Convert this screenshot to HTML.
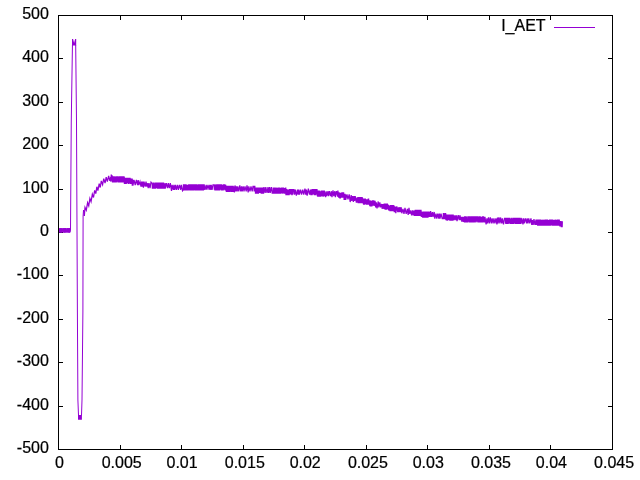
<!DOCTYPE html>
<html><head><meta charset="utf-8"><title>plot</title><style>html,body{margin:0;padding:0;background:#fff;overflow:hidden}</style></head><body>
<svg width="640" height="480" viewBox="0 0 640 480" style="display:block">
<rect width="640" height="480" fill="#fff"/>
<path d="M58.5,449.5h4.5M612.5,449.5h-4.5M58.5,406.5h4.5M612.5,406.5h-4.5M58.5,362.5h4.5M612.5,362.5h-4.5M58.5,319.5h4.5M612.5,319.5h-4.5M58.5,275.5h4.5M612.5,275.5h-4.5M58.5,232.5h4.5M612.5,232.5h-4.5M58.5,189.5h4.5M612.5,189.5h-4.5M58.5,145.5h4.5M612.5,145.5h-4.5M58.5,102.5h4.5M612.5,102.5h-4.5M58.5,58.5h4.5M612.5,58.5h-4.5M58.5,15.5h4.5M612.5,15.5h-4.5M58.5,449.5v-4.5M58.5,15.5v4.5M120.5,449.5v-4.5M120.5,15.5v4.5M181.5,449.5v-4.5M181.5,15.5v4.5M243.5,449.5v-4.5M243.5,15.5v4.5M304.5,449.5v-4.5M304.5,15.5v4.5M366.5,449.5v-4.5M366.5,15.5v4.5M427.5,449.5v-4.5M427.5,15.5v4.5M489.5,449.5v-4.5M489.5,15.5v4.5M550.5,449.5v-4.5M550.5,15.5v4.5M612.5,449.5v-4.5M612.5,15.5v4.5" stroke="#000" stroke-width="1" fill="none"/>
<g font-family="Liberation Sans, sans-serif" font-size="16" fill="#000" stroke="#000" stroke-width="0.22" style="will-change:transform">
<text x="48.9" y="453.0" text-anchor="end">-500</text>
<text x="48.9" y="410.0" text-anchor="end">-400</text>
<text x="48.9" y="366.0" text-anchor="end">-300</text>
<text x="48.9" y="323.0" text-anchor="end">-200</text>
<text x="48.9" y="279.0" text-anchor="end">-100</text>
<text x="48.9" y="236.0" text-anchor="end">0</text>
<text x="48.9" y="193.0" text-anchor="end">100</text>
<text x="48.9" y="149.0" text-anchor="end">200</text>
<text x="48.9" y="106.0" text-anchor="end">300</text>
<text x="48.9" y="62.0" text-anchor="end">400</text>
<text x="48.9" y="19.0" text-anchor="end">500</text>
<text x="59.5" y="467.7" text-anchor="middle">0</text>
<text x="121.7" y="467.7" text-anchor="middle">0.005</text>
<text x="182.1" y="467.7" text-anchor="middle">0.01</text>
<text x="244.8" y="467.7" text-anchor="middle">0.015</text>
<text x="305.2" y="467.7" text-anchor="middle">0.02</text>
<text x="367.9" y="467.7" text-anchor="middle">0.025</text>
<text x="428.3" y="467.7" text-anchor="middle">0.03</text>
<text x="491.0" y="467.7" text-anchor="middle">0.035</text>
<text x="551.4" y="467.7" text-anchor="middle">0.04</text>
<text x="614.1" y="467.7" text-anchor="middle">0.045</text>
<text x="545.6" y="30.8" text-anchor="end">I_AET</text>
</g>
<path d="M554,27.5H595" stroke="#9400d3" stroke-width="1" fill="none"/>
<path d="M72,45.6V39.1H73.1L74.1,42.9L75.1,39.1H76.2V45.6Z M78,415H81.9V419.75H78Z" fill="#9400d3"/>
<path d="M58.50,228.30L59.00,232.40L59.20,228.30L59.90,232.40L60.05,228.30L60.20,232.40L60.35,228.30L60.85,232.40L61.00,228.30L61.20,232.40L61.35,228.30L61.50,232.40L62.20,228.30L62.90,232.40L63.05,228.30L63.25,232.40L63.40,228.30L64.10,232.40L64.25,228.30L64.40,232.40L64.60,228.30L64.75,232.40L65.45,228.30L65.60,232.40L65.80,228.30L65.95,232.40L66.15,228.30L66.65,232.40L67.35,228.30L67.55,232.40L67.70,228.30L68.20,232.40L68.40,228.30L68.55,232.40L68.75,228.30L69.25,232.40L69.40,228.30L69.55,232.40L69.70,228.30L69.90,232.40L70.50,230.00L71.25,122.00L72.45,45.00M75.70,45.00L76.50,122.00L77.00,230.00L77.40,312.00L77.90,400.00L78.50,415.50M81.50,415.50L82.00,400.00L82.90,312.00L83.10,216.00L83.50,210.00L84.30,216.00" stroke="#9400d3" stroke-width="1" fill="none" stroke-linejoin="miter"/>
<path d="M84.30,216.00L85.00,207.38L86.30,210.22L87.60,202.67L88.75,205.78L89.90,198.49L91.05,201.62L92.35,194.23L93.50,197.50L94.65,190.37L95.80,193.64L96.85,186.77L97.90,190.59L99.20,183.68L100.25,187.50L101.30,180.92L102.60,184.61L103.75,178.67L105.05,183.03L106.20,177.09L107.35,181.55L108.65,175.88L109.80,180.89L110.80,176.80L110.90,181.80L111.00,180.20L111.10,180.20L111.23,175.20L111.39,175.20L111.55,180.20L111.68,180.20L111.84,180.20L112.00,180.20L112.10,175.20L112.23,180.20L112.39,176.80L112.49,181.80L112.65,181.80L112.78,181.80L112.94,181.80L113.04,181.80L113.17,176.80L113.33,176.80L113.46,176.80L113.56,181.80L113.66,176.80L113.79,181.80L113.92,176.80L114.02,181.80L114.15,181.80L114.25,181.80L114.41,181.80L114.57,181.80L114.70,181.80L114.80,176.80L114.90,176.80L115.00,176.80L115.16,176.80L115.26,181.80L115.42,176.80L115.55,181.80L115.65,176.80L115.78,181.80L115.94,181.80L116.04,176.80L116.17,181.80L116.30,181.80L116.43,176.80L116.56,181.80L116.66,176.80L116.76,176.80L116.89,176.80L116.99,181.80L117.15,176.80L117.25,176.80L117.41,176.80L117.57,176.80L117.70,176.80L117.80,176.80L117.96,181.80L118.06,181.80L118.19,181.80L118.32,176.80L118.42,181.80L118.55,181.80L118.68,181.80L118.78,176.80L118.88,181.80L119.04,181.80L119.17,176.80L119.33,176.80L119.43,181.80L119.53,176.80L119.69,181.80L119.85,176.80L120.01,181.80L120.17,181.80L120.27,181.80L120.37,181.80L120.53,176.80L120.69,176.80L120.79,181.80L120.95,176.80L121.05,181.80L121.18,176.80L121.28,181.80L121.41,181.80L121.51,181.80L121.64,181.80L121.77,176.80L121.87,176.80L121.97,181.80L122.07,181.80L122.17,181.80L122.33,176.80L122.46,181.80L122.62,176.80L122.78,176.80L122.91,176.80L123.04,176.80L123.17,181.80L123.27,181.80L123.40,181.80L123.56,176.80L123.72,176.80L123.82,176.80L123.92,176.80L124.08,181.80L124.24,176.80L124.40,183.40L124.56,183.40L124.66,178.40L124.76,178.40L124.92,178.40L125.08,178.40L125.21,178.40L125.31,178.40L125.44,178.40L125.57,178.40L125.73,183.40L125.86,183.40L125.96,178.40L126.12,183.40L126.25,183.40L126.41,178.40L126.57,178.40L126.73,178.40L126.86,178.40L127.02,178.40L127.12,178.40L127.22,183.40L127.38,178.40L127.54,178.40L127.67,183.40L127.77,178.40L127.87,178.40L128.00,178.40L128.10,183.40L128.26,178.40L128.36,183.40L128.49,178.40L128.65,183.40L128.78,183.40L128.94,178.40L129.10,183.40L129.26,178.40L129.39,178.40L129.52,178.40L129.65,183.40L129.78,178.40L129.94,178.40L130.07,178.40L130.17,183.40L130.27,178.40L130.43,183.40L130.53,183.40L130.63,183.40L130.73,178.40L130.86,183.40L130.96,178.40L131.06,183.40L131.22,183.40L131.35,183.40L131.45,183.40L131.58,178.40L131.74,183.40L131.84,183.40L132.00,183.40L132.13,178.40L132.26,185.00L132.42,185.00L132.58,180.00L132.68,180.00L132.78,180.00L132.91,185.00L133.01,185.00L134.01,180.00L135.21,185.00L136.41,180.00L137.61,185.00L138.21,180.00L138.81,185.00L140.01,181.60L141.01,186.60L141.61,181.60L142.21,186.60L142.81,181.60L143.41,187.64L144.01,181.60L145.21,186.60L146.01,181.60L146.81,186.60L147.61,183.20L148.21,188.20L149.01,183.20L150.01,188.20L151.01,182.24L151.81,183.20L151.94,183.20L152.04,183.20L152.20,183.20L152.36,188.20L152.46,188.20L152.56,188.20L152.72,188.20L152.88,188.20L153.04,188.20L153.20,183.20L153.30,188.20L153.40,183.20L153.53,188.20L153.63,183.20L153.73,183.20L153.89,188.20L154.02,183.20L154.12,183.20L154.28,188.20L154.44,188.20L154.60,183.20L154.76,188.20L154.86,188.20L154.96,183.20L155.09,188.20L155.19,188.20L155.32,188.20L155.48,188.20L155.58,183.20L155.71,183.20L155.84,183.20L155.94,188.20L156.07,183.20L156.20,188.20L156.36,183.20L156.46,183.20L156.56,188.20L156.66,183.20L156.79,183.20L156.92,183.20L157.05,188.20L157.21,183.20L157.31,183.20L157.47,188.20L157.60,188.20L157.70,188.20L157.86,183.20L157.96,188.20L158.12,183.20L158.28,183.20L158.44,183.20L158.54,183.20L158.64,183.20L158.80,188.20L158.90,188.20L159.03,183.20L159.19,183.20L159.35,183.20L159.48,188.20L159.58,188.20L159.68,183.20L159.84,183.20L160.00,188.20L160.13,183.20L160.26,183.20L160.42,183.20L160.52,188.20L160.65,188.20L160.75,188.20L160.91,188.20L161.01,183.20L161.11,183.20L161.24,188.20L161.40,188.20L161.56,183.20L161.66,188.20L161.76,188.20L161.89,183.20L162.05,183.20L162.21,188.20L162.34,188.20L162.47,188.20L162.60,183.20L162.76,183.20L162.89,183.20L163.02,183.20L163.15,188.20L163.25,188.20L163.38,188.20L163.48,183.20L163.58,183.20L163.68,188.20L163.81,183.20L163.97,188.20L164.07,188.20L164.17,188.20L164.30,188.20L164.40,183.20L164.50,188.20L164.66,188.20L164.79,188.20L164.95,183.20L165.08,188.20L165.21,188.20L165.31,188.20L166.31,183.20L167.51,188.20L168.31,183.20L169.31,188.20L170.31,183.20L171.51,190.84L172.11,184.80L173.31,189.80L173.91,184.80L174.51,189.80L175.51,184.80L176.31,189.80L177.51,184.80L178.31,189.80L179.51,184.80L180.71,189.80L181.31,184.80L182.51,190.84L183.31,189.80L183.44,184.80L183.60,184.80L183.70,189.80L183.83,189.80L183.96,189.80L184.09,189.80L184.22,184.80L184.35,189.80L184.51,189.80L184.61,184.80L184.77,184.80L184.87,184.80L185.03,189.80L185.19,184.80L185.32,189.80L185.45,189.80L185.55,184.80L185.65,184.80L185.75,189.80L185.91,184.80L186.04,184.80L186.17,189.80L186.33,184.80L186.43,189.80L186.56,189.80L186.72,184.80L186.85,189.80L186.98,184.80L187.11,189.80L187.27,189.80L187.37,184.80L187.47,189.80L187.57,189.80L187.70,189.80L187.83,189.80L187.93,184.80L188.03,189.80L188.19,189.80L188.35,189.80L188.45,184.80L188.58,189.80L188.71,184.80L188.81,184.80L188.91,184.80L189.07,184.80L189.23,189.80L189.33,184.80L189.43,184.80L189.53,184.80L189.69,189.80L189.79,189.80L189.95,189.80L190.11,184.80L190.21,184.80L190.34,184.80L190.47,189.80L190.57,184.80L190.67,189.80L190.80,189.80L190.93,184.80L191.06,184.80L191.22,184.80L191.32,189.80L191.48,189.80L191.58,184.80L191.68,189.80L191.84,189.80L191.94,189.80L192.04,189.80L192.17,184.80L192.30,184.80L192.46,189.80L192.62,189.80L192.75,189.80L192.85,184.80L192.98,184.80L193.08,189.80L193.18,189.80L193.28,184.80L193.41,184.80L193.54,189.80L193.64,189.80L193.80,184.80L193.90,189.80L194.03,184.80L194.19,184.80L194.32,184.80L194.42,184.80L194.58,184.80L194.71,184.80L194.87,184.80L194.97,189.80L195.10,189.80L195.26,184.80L195.36,184.80L195.49,184.80L195.59,189.80L195.69,189.80L195.85,189.80L195.98,189.80L196.11,184.80L196.21,184.80L196.31,189.80L196.41,189.80L196.54,184.80L196.70,184.80L196.83,189.80L196.96,189.80L197.06,184.80L197.22,189.80L197.32,189.80L197.48,189.80L197.58,189.80L197.71,189.80L197.81,189.80L197.91,189.80L198.01,189.80L198.11,189.80L198.21,184.80L198.34,184.80L198.50,184.80L198.66,189.80L198.79,189.80L198.92,184.80L199.05,189.80L199.18,189.80L199.28,184.80L199.38,184.80L199.48,189.80L199.64,189.80L199.77,189.80L199.90,189.80L200.00,189.80L200.10,184.80L200.26,189.80L200.42,184.80L200.58,184.80L200.71,189.80L200.84,189.80L201.00,184.80L201.16,184.80L201.29,184.80L201.39,189.80L201.49,184.80L201.62,189.80L201.72,189.80L201.82,184.80L201.95,184.80L202.05,184.80L202.18,189.80L202.34,189.80L202.44,184.80L202.54,189.80L202.67,184.80L202.83,184.80L202.96,189.80L203.09,189.80L203.22,189.80L203.38,189.80L203.48,189.80L203.58,184.80L203.68,184.80L203.78,189.80L203.94,184.80L204.07,184.80L204.20,184.80L205.00,189.80L206.20,184.80L206.80,189.80L208.00,184.80L209.20,189.80L209.80,184.80L210.60,189.80L211.20,184.80L212.00,189.80L213.00,184.80L214.20,184.80L214.30,189.80L214.40,184.80L214.53,189.80L214.63,184.80L214.73,189.80L214.83,184.80L214.93,189.80L215.06,189.80L215.16,189.80L215.26,184.80L215.36,189.80L215.52,189.80L215.62,189.80L215.72,189.80L215.88,184.80L216.04,184.80L216.20,184.80L216.33,189.80L216.46,189.80L216.62,189.80L216.75,184.80L216.88,189.80L217.01,189.80L217.11,189.80L217.27,184.80L217.40,189.80L217.50,184.80L217.63,184.80L217.76,184.80L217.86,189.80L218.02,189.80L218.15,184.80L218.25,184.80L218.35,184.80L218.51,189.80L218.61,189.80L218.77,184.80L218.87,189.80L219.00,184.80L219.16,184.80L219.26,184.80L219.39,189.80L219.49,189.80L219.59,184.80L219.72,189.80L219.82,189.80L219.92,184.80L220.08,184.80L220.24,189.80L220.40,184.80L220.53,184.80L220.69,184.80L220.79,189.80L220.95,184.80L221.08,189.80L221.18,184.80L221.28,184.80L221.38,184.80L221.54,189.80L221.64,189.80L221.80,189.80L221.96,189.80L222.12,189.80L222.25,184.80L222.38,189.80L222.54,189.80L222.67,189.80L222.77,184.80L222.87,189.80L223.00,184.80L223.13,189.80L223.23,189.80L223.36,184.80L223.46,184.80L223.59,189.80L223.72,184.80L223.85,184.80L223.95,184.80L224.05,189.80L224.21,184.80L224.31,189.80L224.47,184.80L224.57,184.80L224.73,184.80L224.83,184.80L224.96,189.80L225.06,184.80L225.16,189.80L225.32,189.80L225.42,189.80L225.58,189.80L225.71,184.80L225.84,189.80L225.94,189.80L226.10,186.40L226.23,191.40L226.33,186.40L226.43,191.40L226.53,191.40L226.69,191.40L226.82,186.40L226.95,186.40L227.11,186.40L227.27,191.40L227.40,186.40L227.53,191.40L227.69,191.40L227.82,191.40L227.95,186.40L228.08,191.40L228.18,191.40L228.28,186.40L228.44,186.40L228.57,191.40L228.70,191.40L228.86,186.40L229.02,186.40L229.12,186.40L229.25,191.40L229.38,191.40L229.48,186.40L229.61,186.40L229.77,186.40L229.87,186.40L229.97,191.40L230.10,186.40L230.26,191.40L230.42,186.40L230.55,191.40L230.71,186.40L230.81,191.40L230.97,191.40L231.07,186.40L231.17,186.40L231.33,186.40L231.46,186.40L231.56,186.40L231.72,191.40L231.85,191.40L231.95,186.40L232.11,191.40L232.27,191.40L232.43,191.40L232.53,186.40L232.63,186.40L232.73,186.40L232.86,186.40L232.96,186.40L233.06,186.40L233.16,186.40L233.26,191.40L233.36,191.40L233.52,186.40L233.68,191.40L233.78,191.40L233.94,186.40L234.10,191.40L234.26,186.40L234.39,192.44L234.99,185.44L235.79,191.40L236.39,186.40L237.19,191.40L237.79,186.40L238.79,191.40L239.79,185.44L240.79,191.40L241.59,186.40L242.19,191.40L243.19,186.40L243.99,191.40L244.99,186.40L246.19,191.40L246.99,185.44L248.19,192.44L248.79,186.40L249.99,191.40L250.99,186.40L252.19,191.40L252.99,186.40L253.09,186.40L253.25,186.40L253.38,186.40L253.54,186.40L253.64,186.40L253.74,186.40L253.90,186.40L254.06,186.40L254.16,191.40L254.26,186.40L254.42,191.40L254.52,186.40L254.62,186.40L254.72,186.40L254.82,186.40L254.98,191.40L255.11,188.00L255.21,188.00L255.37,188.00L255.50,193.00L255.63,193.00L255.76,188.00L255.89,193.00L256.02,188.00L256.18,193.00L256.31,193.00L256.44,188.00L256.57,188.00L256.70,188.00L256.83,193.00L256.99,188.00L257.15,188.00L257.31,188.00L257.47,193.00L257.57,193.00L257.67,188.00L257.80,188.00L257.90,193.00L258.03,188.00L258.16,188.00L258.29,193.00L258.45,193.00L258.61,188.00L258.74,188.00L258.90,188.00L259.03,188.00L259.13,188.00L259.26,188.00L259.42,193.00L259.55,188.00L259.68,193.00L259.84,188.00L259.97,188.00L260.10,188.00L260.23,193.00L260.36,188.00L260.49,188.00L260.62,188.00L260.78,188.00L260.91,193.00L261.07,188.00L261.20,193.00L261.30,193.00L261.43,193.00L261.59,188.00L261.69,193.00L261.82,188.00L261.98,188.00L262.11,193.00L262.27,188.00L262.43,188.00L262.53,193.00L262.69,193.00L262.79,188.00L262.92,188.00L263.05,188.00L263.15,188.00L263.25,193.00L263.35,188.00L263.48,193.00L263.61,193.00L263.71,188.00L263.87,188.00L264.00,187.04L265.20,193.00L265.80,187.04L267.00,193.00L268.00,187.04L268.60,193.00L269.60,187.04L270.20,193.00L271.40,187.04L272.20,193.00L273.00,193.00L273.13,193.00L273.26,188.00L273.39,188.00L273.52,188.00L273.65,193.00L273.78,193.00L273.88,193.00L274.04,188.00L274.20,193.00L274.30,193.00L274.43,188.00L274.53,193.00L274.69,188.00L274.79,188.00L274.95,193.00L275.05,193.00L275.21,188.00L275.37,193.00L275.53,188.00L275.69,193.00L275.85,193.00L275.98,193.00L276.08,188.00L276.21,188.00L276.37,193.00L276.53,188.00L276.66,193.00L276.79,193.00L276.89,188.00L276.99,193.00L277.12,193.00L277.28,193.00L277.38,188.00L277.51,193.00L277.67,188.00L277.80,193.00L277.90,188.00L278.00,188.00L278.16,188.00L278.29,188.00L278.39,193.00L278.55,193.00L278.68,193.00L278.84,188.00L278.97,193.00L279.07,193.00L279.23,193.00L279.39,193.00L279.52,188.00L279.65,188.00L279.81,193.00L279.94,188.00L280.10,193.00L280.23,193.00L280.36,193.00L280.52,188.00L280.68,193.00L280.78,193.00L280.91,188.00L281.01,193.00L281.11,193.00L281.27,188.00L281.43,188.00L281.53,188.00L281.69,193.00L281.82,188.00L281.98,188.00L282.08,188.00L282.21,193.00L282.31,188.00L282.44,188.00L282.60,188.00L282.76,193.00L282.86,193.00L283.02,188.00L283.18,188.00L283.34,193.00L283.50,188.00L283.66,188.00L283.79,193.00L283.89,188.00L284.02,193.00L284.18,188.00L284.31,193.00L284.41,193.00L284.51,193.00L284.61,188.00L284.71,193.00L284.84,193.00L285.00,193.00L285.13,193.00L285.26,193.00L285.42,188.00L285.52,193.00L285.68,188.00L285.78,188.00L285.94,194.60L286.04,194.60L286.17,189.60L286.27,189.60L286.43,194.60L286.59,189.60L286.72,189.60L286.88,194.60L287.01,194.60L287.17,189.60L287.30,194.60L287.43,194.60L287.56,189.60L287.69,194.60L287.82,194.60L287.95,194.60L288.11,194.60L288.27,194.60L288.37,194.60L288.47,194.60L288.57,194.60L288.73,194.60L288.83,189.60L288.93,194.60L289.09,194.60L289.25,189.60L289.38,194.60L289.48,189.60L289.58,189.60L289.71,189.60L289.87,194.60L290.03,189.60L290.19,189.60L290.29,189.60L290.45,194.60L290.61,189.60L290.71,189.60L290.81,194.60L290.91,189.60L291.04,189.60L291.17,194.60L291.30,189.60L291.43,189.60L291.56,189.60L291.69,189.60L291.82,189.60L291.92,194.60L292.08,194.60L292.21,189.60L292.31,194.60L292.47,189.60L292.60,194.60L292.76,189.60L292.86,194.60L292.96,189.60L293.12,189.60L293.25,189.60L293.35,189.60L293.45,189.60L293.55,189.60L293.68,189.60L293.81,189.60L293.94,189.60L294.54,194.60L295.34,189.60L296.34,195.64L297.54,189.60L298.14,194.60L298.74,189.60L299.34,194.60L300.54,189.60L301.54,194.60L302.74,189.60L303.74,194.60L304.94,188.64L305.74,194.60L306.34,189.60L307.14,195.64L308.34,188.64L309.54,194.60L310.54,189.60L310.70,194.60L310.86,189.60L310.96,194.60L311.12,194.60L311.22,194.60L311.35,194.60L311.51,189.60L311.64,194.60L311.80,189.60L311.93,194.60L312.06,194.60L312.16,189.60L312.29,189.60L312.45,189.60L312.58,194.60L312.71,189.60L312.87,194.60L313.00,189.60L313.16,189.60L313.29,189.60L313.45,194.60L313.58,189.60L313.71,189.60L313.84,194.60L314.00,189.60L314.16,194.60L314.26,189.60L314.39,194.60L314.55,194.60L314.68,189.60L314.78,189.60L314.88,189.60L314.98,194.60L315.11,194.60L315.24,189.60L315.34,189.60L315.47,194.60L315.57,194.60L315.73,194.60L315.83,189.60L315.96,189.60L316.09,194.60L316.25,189.60L316.35,189.60L316.45,194.60L316.61,189.60L316.74,194.60L316.87,189.60L317.00,189.60L317.13,191.20L317.26,191.20L317.36,196.20L317.46,191.20L317.56,191.20L317.72,196.20L317.88,196.20L318.01,191.20L318.17,196.20L318.27,191.20L318.40,196.20L318.56,191.20L318.72,191.20L318.88,196.20L318.98,196.20L319.08,196.20L319.18,191.20L319.28,191.20L319.41,196.20L319.51,191.20L319.61,196.20L319.77,196.20L319.87,191.20L319.97,196.20L320.07,191.20L320.23,196.20L320.39,196.20L320.55,191.20L320.68,196.20L320.81,196.20L320.94,191.20L321.07,196.20L321.20,191.20L321.33,191.20L321.43,191.20L321.56,191.20L321.66,191.20L321.76,191.20L321.92,196.20L322.08,191.20L322.21,191.20L322.34,191.20L322.50,191.20L322.63,196.20L322.76,191.20L322.89,191.20L323.05,196.20L323.15,196.20L323.25,191.20L323.35,196.20L323.51,191.20L323.64,191.20L323.77,196.20L323.90,191.20L324.00,191.20L324.13,196.20L324.26,191.20L324.39,191.20L325.59,197.24L326.19,191.20L326.79,196.20L327.99,191.20L328.59,196.20L329.39,191.20L330.59,196.20L331.39,191.20L331.99,197.24L332.99,190.24L333.79,196.20L334.79,191.20L335.39,197.24L336.39,191.20L337.59,196.20L337.69,196.20L337.82,191.20L337.95,191.20L338.08,192.80L338.18,192.80L338.34,192.80L338.50,192.80L338.60,192.80L338.70,197.80L338.83,192.80L338.93,192.80L339.09,192.80L339.25,197.80L339.35,192.80L339.45,197.80L339.61,192.80L339.77,197.80L339.90,197.80L340.06,197.80L340.16,192.80L340.29,197.80L340.39,197.80L340.49,192.80L340.65,197.80L340.75,192.80L340.91,197.80L341.07,192.80L341.20,197.80L341.36,192.80L341.46,197.80L341.62,192.80L341.75,197.80L341.91,192.80L342.04,192.80L342.20,197.80L342.33,192.80L342.49,192.80L342.59,192.80L342.69,192.80L342.85,192.80L342.95,192.80L343.08,197.80L343.24,192.80L343.34,192.80L343.50,192.80L343.63,192.80L343.79,197.80L343.95,194.40L344.11,199.40L344.21,199.40L344.31,194.40L344.41,199.40L344.51,199.40L344.64,199.40L344.74,194.40L344.84,199.40L344.94,194.40L345.04,194.40L345.20,199.40L345.36,199.40L345.46,194.40L345.62,199.40L345.78,199.40L346.98,194.40L347.98,199.40L349.18,194.40L350.18,202.04L351.18,195.04L351.78,201.00L352.58,196.00L353.38,202.04L353.98,196.00L354.58,201.00L355.18,196.00L356.38,202.60L356.98,197.60L357.78,202.60L357.91,197.60L358.01,197.60L358.17,202.60L358.33,202.60L358.49,197.60L358.65,197.60L358.78,197.60L358.94,197.60L359.07,197.60L359.17,202.60L359.27,202.60L359.40,197.60L359.50,197.60L359.66,202.60L359.76,202.60L359.92,197.60L360.05,197.60L360.21,197.60L360.34,202.60L360.50,202.60L360.63,197.60L360.79,197.60L360.95,202.60L361.08,197.60L361.24,202.60L361.34,202.60L361.47,202.60L361.63,202.60L361.76,202.60L361.86,197.60L361.99,197.60L362.09,202.60L362.25,202.60L362.35,202.60L362.45,197.60L362.58,202.60L362.71,202.60L362.84,199.20L362.97,199.20L363.07,199.20L363.23,199.20L363.39,204.20L363.52,199.20L363.68,204.20L363.81,204.20L363.97,199.20L364.13,199.20L364.29,199.20L364.42,204.20L364.58,204.20L364.68,199.20L364.84,204.20L365.00,199.20L365.16,204.20L365.29,199.20L365.42,199.20L365.52,204.20L365.68,199.20L365.81,204.20L365.97,199.20L366.10,204.20L366.26,199.20L366.39,204.20L366.55,204.20L366.68,204.20L366.81,204.20L366.94,204.20L367.10,204.20L367.20,204.20L367.33,204.20L367.46,199.20L367.62,204.20L367.72,204.20L367.88,204.20L368.04,199.20L368.14,204.20L368.27,199.20L368.40,199.20L368.53,199.20L368.63,199.20L368.76,204.20L368.89,204.20L369.05,204.20L369.21,204.20L369.34,204.20L369.47,200.80L369.63,205.80L369.76,200.80L369.92,200.80L370.08,200.80L370.18,205.80L370.31,205.80L370.47,200.80L370.57,205.80L370.70,205.80L370.83,205.80L370.99,200.80L371.09,205.80L371.22,205.80L371.32,205.80L371.48,200.80L371.58,205.80L371.74,205.80L371.90,205.80L372.06,200.80L372.22,205.80L372.38,200.80L372.54,200.80L372.67,200.80L372.77,200.80L372.90,200.80L373.06,205.80L373.16,200.80L373.29,200.80L373.42,205.80L373.52,200.80L373.68,200.80L373.78,200.80L373.91,205.80L374.07,200.80L374.23,205.80L375.03,200.80L375.63,207.40L376.23,202.40L377.03,208.44L378.23,201.44L378.83,207.40L379.83,202.40L380.63,207.40L381.63,204.00L382.23,209.00L382.83,204.00L383.83,209.00L383.93,204.00L384.03,209.00L384.19,204.00L384.32,204.00L384.48,204.00L384.58,204.00L384.68,204.00L384.84,204.00L384.97,204.00L385.10,209.00L385.23,209.00L385.36,204.00L385.46,209.00L385.62,204.00L385.75,209.00L385.88,209.00L385.98,204.00L386.08,204.00L386.18,209.00L386.31,204.00L386.41,209.00L386.54,209.00L386.64,209.00L386.80,209.00L386.93,209.00L387.09,204.00L387.19,209.00L387.32,204.00L387.45,204.00L387.58,209.00L387.71,204.00L387.84,205.60L387.97,205.60L388.10,205.60L388.20,205.60L388.30,205.60L388.43,205.60L388.59,210.60L388.72,205.60L388.82,210.60L388.95,205.60L389.11,210.60L389.24,205.60L389.37,210.60L389.53,205.60L389.63,210.60L389.79,205.60L389.95,210.60L390.11,210.60L390.27,210.60L390.43,205.60L390.56,205.60L390.66,205.60L390.82,205.60L390.98,210.60L391.14,210.60L391.24,205.60L391.37,205.60L391.50,205.60L391.66,205.60L391.76,210.60L391.86,205.60L391.96,210.60L392.12,210.60L392.22,205.60L392.38,210.60L392.48,205.60L392.61,205.60L392.77,210.60L392.90,210.60L393.03,210.60L393.19,205.60L393.32,205.60L393.42,210.60L393.58,210.60L393.71,205.60L393.87,210.60L393.97,210.60L394.10,205.60L394.20,210.60L394.30,212.20L394.46,207.20L394.62,207.20L394.75,207.20L394.91,207.20L395.04,207.20L395.17,207.20L395.30,207.20L395.46,212.20L395.62,207.20L395.78,213.24L396.78,206.24L397.78,212.20L398.38,207.20L398.98,212.20L399.78,207.20L400.38,212.20L401.18,207.20L401.78,213.24L402.98,208.80L403.98,213.80L404.98,207.84L406.18,213.80L407.38,208.80L408.18,214.84L408.98,207.84L409.78,213.80L410.78,210.40L411.58,215.40L412.58,210.40L413.18,215.40L414.18,210.40L414.28,215.40L414.38,210.40L414.54,215.40L414.70,215.40L414.80,210.40L414.90,215.40L415.00,215.40L415.16,215.40L415.26,210.40L415.42,210.40L415.55,210.40L415.71,215.40L415.81,210.40L415.97,215.40L416.10,210.40L416.20,215.40L416.30,215.40L416.43,210.40L416.53,210.40L416.66,215.40L416.76,210.40L416.92,215.40L417.05,210.40L417.15,215.40L417.28,215.40L417.44,215.40L417.57,210.40L417.73,210.40L417.83,210.40L417.96,215.40L418.06,215.40L418.22,215.40L418.32,215.40L418.45,215.40L418.55,215.40L418.65,215.40L418.75,215.40L418.91,215.40L419.07,210.40L419.17,210.40L419.33,210.40L419.43,215.40L419.53,215.40L419.66,210.40L419.82,210.40L419.92,215.40L420.08,215.40L420.21,210.40L420.37,215.40L420.50,210.40L420.63,210.40L420.79,215.40L420.92,210.40L421.02,210.40L421.12,215.40L421.22,212.00L421.35,217.00L421.48,212.00L421.61,212.00L421.71,212.00L421.81,212.00L421.94,217.00L422.04,212.00L422.17,217.00L422.27,212.00L422.43,217.00L422.53,212.00L422.69,217.00L422.79,217.00L422.89,212.00L423.05,217.00L423.18,212.00L423.31,212.00L423.47,212.00L423.63,212.00L423.76,217.00L423.86,217.00L424.02,217.00L424.18,212.00L424.31,212.00L424.47,217.00L424.63,217.00L424.76,212.00L424.89,212.00L424.99,217.00L425.15,217.00L425.31,217.00L425.44,217.00L425.60,212.00L425.73,217.00L425.89,212.00L425.99,212.00L426.15,217.00L426.31,212.00L426.41,217.00L426.57,217.00L426.70,212.00L426.86,217.00L426.99,217.00L427.09,212.00L427.19,212.00L427.35,212.00L427.45,217.00L427.61,212.00L427.71,217.00L427.87,217.00L427.97,217.00L428.07,212.00L428.23,212.00L428.36,212.00L428.49,212.00L428.65,212.00L428.81,212.00L428.94,217.00L429.10,212.00L429.20,212.00L430.00,217.00L430.60,211.04L431.40,217.00L432.40,212.00L433.00,217.00L434.20,212.00L434.80,218.60L436.00,213.60L436.80,218.60L437.80,213.60L438.80,218.60L439.40,213.60L440.00,218.60L441.00,213.60L442.20,218.60L443.20,218.60L443.36,213.60L443.46,213.60L443.59,218.60L443.69,218.60L443.79,218.60L443.89,213.60L444.02,213.60L444.12,218.60L444.22,213.60L444.38,218.60L444.54,218.60L444.64,218.60L444.80,218.60L444.93,213.60L445.03,218.60L445.13,218.60L445.29,218.60L445.39,213.60L445.49,213.60L445.65,218.60L445.78,213.60L445.94,220.20L446.07,215.20L446.23,215.20L446.36,220.20L446.52,215.20L446.65,215.20L446.81,215.20L446.91,215.20L447.04,220.20L447.17,220.20L447.30,220.20L447.43,215.20L447.56,220.20L447.69,215.20L447.79,215.20L447.92,215.20L448.08,215.20L448.24,215.20L448.37,220.20L448.50,215.20L448.66,220.20L448.79,215.20L448.95,215.20L449.11,215.20L449.21,220.20L449.37,215.20L449.50,220.20L449.60,215.20L449.76,215.20L449.89,220.20L450.05,220.20L450.21,215.20L450.34,220.20L450.47,215.20L450.63,220.20L450.79,220.20L450.92,220.20L451.02,215.20L451.15,215.20L451.25,215.20L451.35,220.20L451.48,220.20L451.61,220.20L451.71,215.20L451.81,220.20L451.97,220.20L452.10,220.20L452.20,215.20L452.36,215.20L452.52,215.20L452.65,220.20L452.78,220.20L452.94,220.20L453.10,215.20L453.23,215.20L454.23,220.20L454.83,215.20L455.83,220.20L456.43,215.20L457.03,221.24L458.23,215.20L459.23,220.20L460.03,215.20L460.63,220.20L461.23,216.80L461.83,221.80L462.63,216.80L463.43,221.80L464.03,216.80L464.13,221.80L464.26,216.80L464.42,221.80L464.55,221.80L464.65,216.80L464.78,216.80L464.88,221.80L465.01,221.80L465.14,221.80L465.24,216.80L465.37,221.80L465.47,221.80L465.63,221.80L465.73,216.80L465.83,216.80L465.93,216.80L466.09,216.80L466.22,221.80L466.35,221.80L466.51,216.80L466.67,221.80L466.77,221.80L466.93,221.80L467.03,221.80L467.19,221.80L467.35,221.80L467.48,221.80L467.58,221.80L467.68,221.80L467.78,221.80L467.88,216.80L468.01,216.80L468.11,216.80L468.21,216.80L468.37,216.80L468.53,216.80L468.66,221.80L468.82,216.80L468.92,216.80L469.08,216.80L469.21,216.80L469.34,221.80L469.44,221.80L469.57,221.80L469.67,221.80L469.77,216.80L469.93,216.80L470.03,221.80L470.19,221.80L470.29,216.80L470.45,221.80L470.58,221.80L470.74,216.80L470.84,221.80L470.94,221.80L471.10,221.80L471.20,216.80L471.33,216.80L471.46,221.80L471.62,221.80L471.75,221.80L471.85,216.80L471.98,221.80L472.08,221.80L472.21,216.80L472.34,216.80L472.47,216.80L472.57,221.80L472.73,221.80L472.83,216.80L472.93,221.80L473.03,221.80L473.13,221.80L473.23,221.80L473.39,216.80L473.49,216.80L473.59,216.80L473.72,216.80L473.88,221.80L473.98,216.80L474.11,221.80L474.21,221.80L474.34,221.80L474.47,216.80L474.63,216.80L474.73,216.80L474.83,216.80L474.99,216.80L475.15,221.80L475.31,216.80L475.47,216.80L475.57,221.80L475.67,216.80L475.77,221.80L475.87,221.80L475.97,216.80L476.07,216.80L476.23,216.80L476.39,221.80L476.52,216.80L476.65,216.80L476.75,216.80L476.88,216.80L476.98,221.80L477.11,216.80L477.21,216.80L477.37,216.80L477.50,221.80L477.63,216.80L477.76,216.80L477.92,221.80L478.08,221.80L478.24,221.80L478.40,221.80L478.56,221.80L478.69,221.80L478.82,221.80L478.95,216.80L479.08,221.80L479.21,216.80L479.37,216.80L479.47,221.80L479.63,221.80L479.73,216.80L479.89,216.80L479.99,216.80L480.15,216.80L480.28,221.80L480.44,221.80L480.60,221.80L480.73,216.80L480.86,221.80L481.02,221.80L481.18,221.80L481.28,221.80L481.41,216.80L481.54,221.80L481.70,221.80L481.80,216.80L481.96,221.80L482.09,221.80L482.25,221.80L482.41,221.80L482.57,216.80L482.67,216.80L482.83,221.80L482.99,216.80L483.15,216.80L483.28,216.80L483.44,216.80L483.54,221.80L483.64,216.80L483.77,221.80L483.90,221.80L484.00,221.80L484.10,221.80L484.23,216.80L484.36,221.80L484.52,221.80L484.65,216.80L484.78,221.80L484.91,216.80L486.11,224.44L486.91,218.40L487.51,223.40L488.51,217.44L489.31,223.40L490.31,217.44L491.31,223.40L492.11,218.40L493.11,223.40L493.91,218.40L494.91,223.40L495.91,218.40L496.91,224.44L497.51,217.44L498.11,223.40L498.91,217.44L499.91,223.40L500.51,217.44L501.71,223.40L502.31,218.40L503.51,224.44L504.51,218.40L505.31,218.40L505.47,218.40L505.63,223.40L505.73,218.40L505.86,218.40L505.96,223.40L506.09,223.40L506.25,223.40L506.38,218.40L506.48,223.40L506.61,223.40L506.74,223.40L506.84,218.40L506.97,223.40L507.10,218.40L507.26,218.40L507.42,218.40L507.58,218.40L507.71,218.40L507.87,223.40L508.03,223.40L508.16,223.40L508.26,218.40L508.36,218.40L508.52,218.40L508.62,223.40L508.72,218.40L508.88,223.40L508.98,218.40L509.14,223.40L509.27,218.40L509.43,223.40L509.59,218.40L509.72,218.40L509.88,218.40L510.01,223.40L510.11,218.40L510.21,223.40L510.37,223.40L510.47,223.40L510.60,223.40L510.76,223.40L510.92,223.40L511.08,223.40L511.24,218.40L511.37,223.40L511.47,223.40L511.60,223.40L511.73,218.40L511.83,218.40L511.93,223.40L512.06,223.40L512.22,218.40L512.35,223.40L512.45,223.40L512.61,218.40L512.77,223.40L512.87,218.40L513.00,223.40L513.10,223.40L513.20,223.40L513.33,218.40L513.49,218.40L513.65,223.40L513.78,223.40L513.88,218.40L513.98,218.40L514.11,218.40L514.21,218.40L514.31,223.40L514.41,218.40L514.57,218.40L514.70,218.40L514.86,223.40L514.96,218.40L515.06,218.40L515.22,218.40L515.35,218.40L515.45,218.40L515.55,223.40L515.65,223.40L515.81,223.40L515.97,223.40L516.07,218.40L516.23,218.40L516.33,218.40L516.46,223.40L516.56,223.40L516.72,218.40L516.85,223.40L516.98,218.40L517.08,218.40L517.21,218.40L517.34,223.40L517.44,223.40L517.54,218.40L517.64,223.40L517.74,218.40L517.87,223.40L518.03,223.40L518.13,218.40L518.26,218.40L518.42,218.40L518.58,218.40L518.71,223.40L518.84,218.40L518.97,218.40L519.07,223.40L519.20,223.40L519.36,218.40L519.46,218.40L519.59,223.40L519.69,223.40L519.79,218.40L519.89,223.40L519.99,218.40L520.15,223.40L520.25,218.40L520.38,223.40L520.51,223.40L520.61,223.40L520.77,223.40L520.87,218.40L521.00,218.40L521.16,223.40L521.76,218.40L522.96,224.44L523.56,218.40L524.16,223.40L525.36,218.40L526.56,223.40L527.16,218.40L527.96,223.40L528.76,218.40L529.76,223.40L530.96,218.40L531.76,225.00L532.36,220.00L533.16,225.00L533.96,219.04L534.96,225.00L535.96,220.00L536.12,220.00L536.28,225.00L536.41,220.00L536.54,225.00L536.70,220.00L536.80,220.00L536.96,220.00L537.06,220.00L537.16,220.00L537.29,220.00L537.45,220.00L537.55,220.00L537.65,225.00L537.75,225.00L537.88,220.00L538.01,220.00L538.11,220.00L538.21,220.00L538.37,220.00L538.47,220.00L538.63,225.00L538.73,220.00L538.83,220.00L538.96,225.00L539.06,225.00L539.22,220.00L539.32,225.00L539.45,225.00L539.55,220.00L539.65,220.00L539.81,220.00L539.91,225.00L540.01,220.00L540.11,220.00L540.27,225.00L540.43,220.00L540.53,225.00L540.63,225.00L540.79,225.00L540.89,220.00L540.99,220.00L541.12,225.00L541.22,225.00L541.38,220.00L541.51,225.00L541.61,225.00L541.77,225.00L541.87,225.00L542.03,220.00L542.16,225.00L542.32,225.00L542.48,220.00L542.58,225.00L542.68,220.00L542.78,225.00L542.94,220.00L543.07,220.00L543.20,225.00L543.36,225.00L543.49,225.00L543.59,220.00L543.75,225.00L543.91,225.00L544.04,220.00L544.17,225.00L544.33,220.00L544.43,225.00L544.56,225.00L544.72,225.00L544.85,220.00L544.98,220.00L545.08,225.00L545.21,225.00L545.37,220.00L545.50,225.00L545.60,225.00L545.70,225.00L545.83,220.00L545.93,220.00L546.09,220.00L546.22,220.00L546.35,225.00L546.48,220.00L546.61,220.00L546.71,225.00L546.87,225.00L547.00,225.00L547.13,220.00L547.23,225.00L547.39,220.00L547.49,220.00L547.59,220.00L547.72,225.00L547.88,225.00L548.04,220.00L548.20,225.00L548.30,225.00L548.46,225.00L548.56,225.00L548.69,225.00L548.82,225.00L548.95,225.00L549.11,220.00L549.27,225.00L549.40,225.00L549.56,220.00L549.66,220.00L549.82,225.00L549.95,225.00L550.11,220.00L550.27,225.00L550.37,225.00L550.50,220.00L550.60,225.00L550.70,220.00L550.86,220.00L550.99,220.00L551.15,225.00L551.31,220.00L551.44,220.00L551.57,225.00L551.73,220.00L551.89,225.00L552.02,225.00L552.18,225.00L552.31,220.00L552.47,225.00L552.57,225.00L552.67,220.00L552.83,220.00L552.93,225.00L553.09,220.00L553.25,225.00L553.35,225.00L553.48,220.00L553.61,225.00L553.74,220.00L553.90,225.00L554.03,225.00L554.13,225.00L554.26,225.00L554.39,225.00L554.52,225.00L554.62,220.00L554.78,225.00L554.94,225.00L555.10,220.00L555.23,220.00L555.33,225.00L555.49,225.00L555.65,225.00L555.75,225.00L555.88,225.00L556.04,225.00L556.20,225.00L556.36,220.00L556.49,225.00L556.59,220.00L556.75,225.00L556.88,225.00L557.01,220.00L557.11,220.00L557.27,225.00L557.43,220.00L557.56,220.00L557.72,220.00L557.88,220.00L558.01,225.00L558.17,225.00L558.30,225.00L558.43,225.00L558.56,220.00L558.72,220.00L558.88,225.00L559.04,225.00L559.14,220.00L559.27,220.00L559.40,221.60L559.56,221.60L559.72,221.60L559.88,226.60L560.01,221.60L560.17,226.60L560.33,221.60L560.43,221.60L560.59,221.60L560.75,221.60L560.88,221.60L561.04,226.60L561.17,221.60L561.33,226.60L561.49,226.60L561.65,221.60L561.81,226.60L561.97,221.60L562.07,226.60L562.17,226.60L562.33,221.60L562.46,221.60" stroke="#9400d3" stroke-width="1.25" fill="none" stroke-linejoin="miter"/>
<rect x="58.5" y="15.5" width="554.0" height="434.0" fill="none" stroke="#000" stroke-width="1"/>
</svg>
</body></html>
